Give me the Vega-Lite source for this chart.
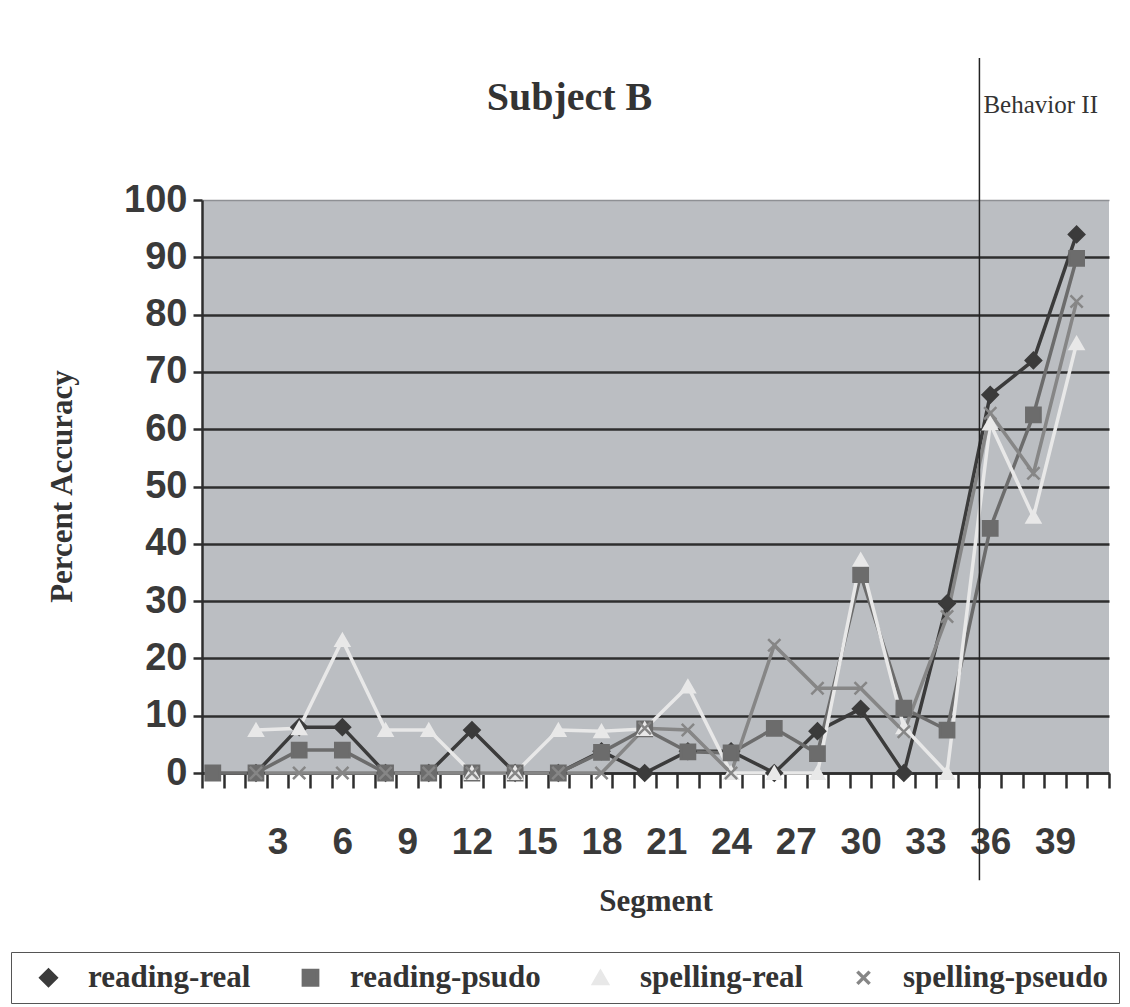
{
  "$schema": "https://vega.github.io/schema/vega-lite/v6.json",
  "width": 907,
  "height": 573,
  "autosize": {"type": "none"},
  "padding": {"left": 202, "top": 200, "right": 21, "bottom": 234},
  "background": "#ffffff",
  "title": {
    "text": "Subject B",
    "font": "Liberation Serif",
    "fontSize": 40,
    "fontWeight": "bold",
    "color": "#333333",
    "anchor": "middle",
    "baseline": "alphabetic",
    "dx": -86,
    "offset": -93
  },
  "config": {
    "view": {"fill": "#bbbec2", "stroke": null},
    "font": "Liberation Serif",
    "axis": {"labelOverlap": false}
  },
  "datasets": {
    "scores": [
      {"series": "reading-real", "Segment": 2, "accuracy": 0},
      {"series": "reading-real", "Segment": 4, "accuracy": 8},
      {"series": "reading-real", "Segment": 6, "accuracy": 8},
      {"series": "reading-real", "Segment": 8, "accuracy": 0},
      {"series": "reading-real", "Segment": 10, "accuracy": 0},
      {"series": "reading-real", "Segment": 12, "accuracy": 7.5},
      {"series": "reading-real", "Segment": 14, "accuracy": 0},
      {"series": "reading-real", "Segment": 16, "accuracy": 0},
      {"series": "reading-real", "Segment": 18, "accuracy": 3.8},
      {"series": "reading-real", "Segment": 20, "accuracy": 0},
      {"series": "reading-real", "Segment": 22, "accuracy": 3.8},
      {"series": "reading-real", "Segment": 24, "accuracy": 3.8},
      {"series": "reading-real", "Segment": 26, "accuracy": 0},
      {"series": "reading-real", "Segment": 28, "accuracy": 7.3},
      {"series": "reading-real", "Segment": 30, "accuracy": 11.2},
      {"series": "reading-real", "Segment": 32, "accuracy": 0},
      {"series": "reading-real", "Segment": 34, "accuracy": 29.6},
      {"series": "reading-real", "Segment": 36, "accuracy": 66},
      {"series": "reading-real", "Segment": 38, "accuracy": 72},
      {"series": "reading-real", "Segment": 40, "accuracy": 94},

      {"series": "reading-psudo", "Segment": 0, "accuracy": 0},
      {"series": "reading-psudo", "Segment": 2, "accuracy": 0},
      {"series": "reading-psudo", "Segment": 4, "accuracy": 4},
      {"series": "reading-psudo", "Segment": 6, "accuracy": 4},
      {"series": "reading-psudo", "Segment": 8, "accuracy": 0},
      {"series": "reading-psudo", "Segment": 10, "accuracy": 0},
      {"series": "reading-psudo", "Segment": 12, "accuracy": 0},
      {"series": "reading-psudo", "Segment": 14, "accuracy": 0},
      {"series": "reading-psudo", "Segment": 16, "accuracy": 0},
      {"series": "reading-psudo", "Segment": 18, "accuracy": 3.6},
      {"series": "reading-psudo", "Segment": 20, "accuracy": 7.7},
      {"series": "reading-psudo", "Segment": 22, "accuracy": 3.7},
      {"series": "reading-psudo", "Segment": 24, "accuracy": 3.5},
      {"series": "reading-psudo", "Segment": 26, "accuracy": 7.8},
      {"series": "reading-psudo", "Segment": 28, "accuracy": 3.4},
      {"series": "reading-psudo", "Segment": 30, "accuracy": 34.6},
      {"series": "reading-psudo", "Segment": 32, "accuracy": 11.3},
      {"series": "reading-psudo", "Segment": 34, "accuracy": 7.5},
      {"series": "reading-psudo", "Segment": 36, "accuracy": 42.7},
      {"series": "reading-psudo", "Segment": 38, "accuracy": 62.5},
      {"series": "reading-psudo", "Segment": 40, "accuracy": 89.8},

      {"series": "spelling-real", "Segment": 2, "accuracy": 7.5},
      {"series": "spelling-real", "Segment": 4, "accuracy": 7.8},
      {"series": "spelling-real", "Segment": 6, "accuracy": 23.2},
      {"series": "spelling-real", "Segment": 8, "accuracy": 7.5},
      {"series": "spelling-real", "Segment": 10, "accuracy": 7.5},
      {"series": "spelling-real", "Segment": 12, "accuracy": 0},
      {"series": "spelling-real", "Segment": 14, "accuracy": 0},
      {"series": "spelling-real", "Segment": 16, "accuracy": 7.5},
      {"series": "spelling-real", "Segment": 18, "accuracy": 7.3},
      {"series": "spelling-real", "Segment": 20, "accuracy": 7.7},
      {"series": "spelling-real", "Segment": 22, "accuracy": 15.1},
      {"series": "spelling-real", "Segment": 24, "accuracy": 0},
      {"series": "spelling-real", "Segment": 26, "accuracy": 0},
      {"series": "spelling-real", "Segment": 28, "accuracy": 0},
      {"series": "spelling-real", "Segment": 30, "accuracy": 37.2},
      {"series": "spelling-real", "Segment": 32, "accuracy": 8},
      {"series": "spelling-real", "Segment": 34, "accuracy": 0},
      {"series": "spelling-real", "Segment": 36, "accuracy": 61},
      {"series": "spelling-real", "Segment": 38, "accuracy": 44.7},
      {"series": "spelling-real", "Segment": 40, "accuracy": 75},

      {"series": "spelling-pseudo", "Segment": 2, "accuracy": 0},
      {"series": "spelling-pseudo", "Segment": 4, "accuracy": 0},
      {"series": "spelling-pseudo", "Segment": 6, "accuracy": 0},
      {"series": "spelling-pseudo", "Segment": 8, "accuracy": 0},
      {"series": "spelling-pseudo", "Segment": 10, "accuracy": 0},
      {"series": "spelling-pseudo", "Segment": 12, "accuracy": 0},
      {"series": "spelling-pseudo", "Segment": 14, "accuracy": 0},
      {"series": "spelling-pseudo", "Segment": 16, "accuracy": 0},
      {"series": "spelling-pseudo", "Segment": 18, "accuracy": 0},
      {"series": "spelling-pseudo", "Segment": 20, "accuracy": 7.8},
      {"series": "spelling-pseudo", "Segment": 22, "accuracy": 7.5},
      {"series": "spelling-pseudo", "Segment": 24, "accuracy": 0},
      {"series": "spelling-pseudo", "Segment": 26, "accuracy": 22.3},
      {"series": "spelling-pseudo", "Segment": 28, "accuracy": 14.8},
      {"series": "spelling-pseudo", "Segment": 30, "accuracy": 14.8},
      {"series": "spelling-pseudo", "Segment": 32, "accuracy": 7.2},
      {"series": "spelling-pseudo", "Segment": 34, "accuracy": 27.3},
      {"series": "spelling-pseudo", "Segment": 36, "accuracy": 62.8},
      {"series": "spelling-pseudo", "Segment": 38, "accuracy": 52.3},
      {"series": "spelling-pseudo", "Segment": 40, "accuracy": 82.3}
    ],
    "phase": [
      {"Segment": 35.5, "top": 124.8, "bottom": -18.7, "labelAt": 115.2, "label": "Behavior II"}
    ]
  },
  "layer": [
    {
      "data": {"name": "scores"},
      "mark": {"type": "line"},
      "encoding": {
        "x": {
          "field": "Segment",
          "type": "quantitative",
          "scale": {"domain": [-0.5, 41.5], "nice": false, "zero": false},
          "axis": {
            "title": "Segment",
            "titleFont": "Liberation Serif",
            "titleFontSize": 31,
            "titleFontWeight": "bold",
            "titleColor": "#333333",
            "titleBaseline": "alphabetic",
            "titleY": 137,
            "values": [-0.5, 0.5, 1.5, 2.5, 3.5, 4.5, 5.5, 6.5, 7.5, 8.5, 9.5, 10.5, 11.5, 12.5, 13.5, 14.5, 15.5, 16.5, 17.5, 18.5, 19.5, 20.5, 21.5, 22.5, 23.5, 24.5, 25.5, 26.5, 27.5, 28.5, 29.5, 30.5, 31.5, 32.5, 33.5, 34.5, 35.5, 36.5, 37.5, 38.5, 39.5, 40.5, 41.5],
            "tickCount": 100,
            "labelExpr": "(datum.value + 0.5) % 3 == 0 && datum.value > 1 && datum.value < 41 ? format(datum.value + 0.5, 'd') : ''",
            "labelOffset": 10.8,
            "labelOverlap": false,
            "labelBound": false,
            "labelFlush": false,
            "labelFont": "Liberation Sans",
            "labelFontSize": 37,
            "labelFontWeight": "bold",
            "labelColor": "#3a3a3a",
            "labelBaseline": "alphabetic",
            "labelPadding": 65,
            "tickSize": 15,
            "tickWidth": 2.5,
            "tickColor": "#2e2e2e",
            "domainColor": "#2e2e2e",
            "domainWidth": 2.5,
            "grid": false
          }
        },
        "y": {
          "field": "accuracy",
          "type": "quantitative",
          "scale": {"domain": [0, 100], "nice": false},
          "axis": {
            "title": "Percent Accuracy",
            "titleFont": "Liberation Serif",
            "titleFontSize": 31,
            "titleFontWeight": "bold",
            "titleColor": "#333333",
            "titleX": -140,
            "titleY": 286,
            "titleAngle": -90,
            "titleAlign": "center",
            "titleBaseline": "middle",
            "values": [0, 10, 20, 30, 40, 50, 60, 70, 80, 90, 100],
            "labelFont": "Liberation Sans",
            "labelFontSize": 38,
            "labelFontWeight": "bold",
            "labelColor": "#3a3a3a",
            "labelPadding": 6,
            "tickSize": 9,
            "tickWidth": 2.5,
            "tickColor": "#2e2e2e",
            "domainColor": "#2e2e2e",
            "domainWidth": 2.5,
            "grid": true,
            "gridColor": {"condition": {"test": "datum.value == 100", "value": "#8e9094"}, "value": "#2e2e2e"},
            "gridWidth": {"condition": {"test": "datum.value == 100", "value": 1.5}, "value": 2.5},
            "gridOpacity": 1
          }
        },
        "color": {
          "field": "series",
          "type": "nominal",
          "scale": {
            "domain": ["reading-real", "reading-psudo", "spelling-real", "spelling-pseudo"],
            "range": ["#3b3b3b", "#6c6c6c", "#e8e8e8", "#868686"]
          },
          "legend": {
            "title": " ",
            "titleOrient": "left",
            "titleFontSize": 2,
            "titlePadding": 12,
            "orient": "none",
            "direction": "horizontal",
            "legendX": -191,
            "legendY": 752,
            "fillColor": "#ffffff",
            "strokeColor": "#555555",
            "padding": 10,
            "labelFont": "Liberation Serif",
            "labelFontSize": 31,
            "labelFontWeight": "bold",
            "labelColor": "#333333",
            "labelLimit": 400,
            "labelOffset": 24,
            "columnPadding": 44,
            "symbolSize": 250,
            "symbolStrokeWidth": 2.5
          }
        },
        "strokeWidth": {
          "field": "series",
          "type": "nominal",
          "scale": {
            "domain": ["reading-real", "reading-psudo", "spelling-real", "spelling-pseudo"],
            "range": [3.5, 3.5, 2, 3]
          },
          "legend": null
        }
      }
    },
    {
      "data": {"name": "scores"},
      "mark": {"type": "point", "filled": true, "opacity": 1, "strokeWidth": 2.5},
      "encoding": {
        "x": {"field": "Segment", "type": "quantitative"},
        "y": {"field": "accuracy", "type": "quantitative"},
        "color": {"field": "series", "type": "nominal"},
        "stroke": {
          "field": "series",
          "type": "nominal",
          "scale": {
            "domain": ["reading-real", "reading-psudo", "spelling-real", "spelling-pseudo"],
            "range": ["#3b3b3b", "#6c6c6c", "#e8e8e8", "#868686"]
          },
          "legend": null
        },
        "shape": {
          "field": "series",
          "type": "nominal",
          "scale": {
            "domain": ["reading-real", "reading-psudo", "spelling-real", "spelling-pseudo"],
            "range": ["diamond", "square", "triangle-up", "M-1,-1L1,1M-1,1L1,-1"]
          },
          "legend": null
        },
        "size": {
          "field": "series",
          "type": "nominal",
          "scale": {
            "domain": ["reading-real", "reading-psudo", "spelling-real", "spelling-pseudo"],
            "range": [230, 150, 150, 64]
          },
          "legend": null
        }
      }
    },
    {
      "data": {"name": "phase"},
      "mark": {"type": "rule", "color": "#222222", "strokeWidth": 1.5},
      "encoding": {
        "x": {"field": "Segment", "type": "quantitative"},
        "y": {"field": "top", "type": "quantitative"},
        "y2": {"field": "bottom"}
      }
    },
    {
      "data": {"name": "phase"},
      "mark": {"type": "text", "align": "left", "baseline": "alphabetic", "dx": 4, "font": "Liberation Serif", "fontSize": 25, "color": "#333333"},
      "encoding": {
        "x": {"field": "Segment", "type": "quantitative"},
        "y": {"field": "labelAt", "type": "quantitative"},
        "text": {"field": "label"}
      }
    }
  ]
}
